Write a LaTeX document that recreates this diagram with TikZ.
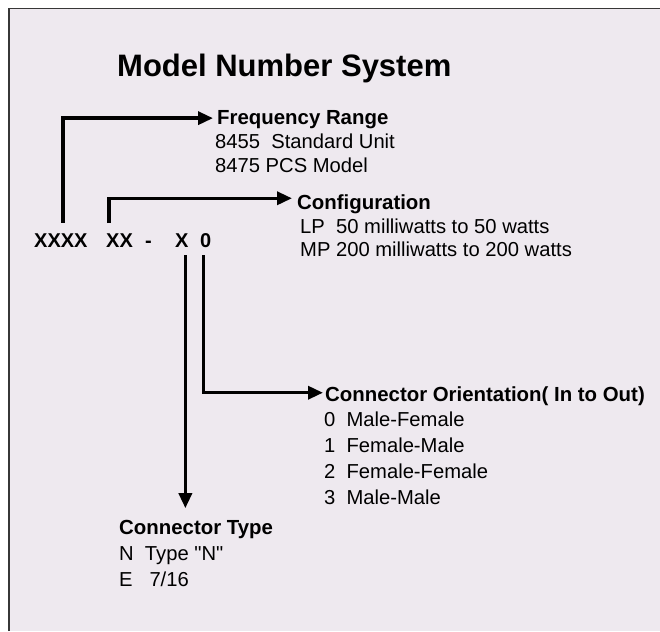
\documentclass[tikz,border=0pt]{standalone}
\usepackage{fontspec}
\setmainfont{Liberation Sans}[Ligatures=TeXOff]
\usetikzlibrary{arrows.meta}
\definecolor{bgcol}{RGB}{238,233,239}
\definecolor{framecol}{RGB}{55,55,55}
\begin{document}
\begin{tikzpicture}[x=1pt,y=-1pt,
  head/.style={anchor=base west,inner sep=0pt,font=\fontsize{20.4}{24}\selectfont\bfseries},
  body/.style={anchor=base west,inner sep=0pt,font=\fontsize{20.2}{24}\selectfont},
  code/.style={anchor=base west,inner sep=0pt,font=\fontsize{20}{24}\selectfont\bfseries},
  conn/.style={line width=3.4pt,-{Triangle[length=15pt,width=13pt]}}]
\useasboundingbox (0,0) rectangle (660,631);
\fill[bgcol] (9,8.5) rectangle (660,631);
\draw[framecol,line width=1.8pt] (9,631) -- (9,8.5) -- (660,8.5);
% title
\node[anchor=base west,inner sep=0pt,font=\fontsize{31}{36}\selectfont\bfseries] (title) at (117,77) {Model Number System};
% code
\node[code] (x4) at (34,247) {XXXX};
\node[code] (xx) at (106,247) {XX};
\node[code] (dash) at (145,247) {-};
\node[code] (x1) at (175,247) {X};
\node[code] (zero) at (200,247) {0};
% frequency range
\node[head] (freq) at (217,125) {Frequency Range};
\node[body] (f1) at (215,148.5) {8455~~Standard Unit};
\node[body] (f2) at (215,172.5) {8475 PCS Model};
% configuration
\node[head] (config) at (297,209.5) {Configuration};
\node[body] (c1) at (300,233.5) {LP~~50 milliwatts to 50 watts};
\node[body] (c2) at (300,256.5) {MP 200 milliwatts to 200 watts};
% orientation
\node[head] (orient) at (325,401) {Connector Orientation( In to Out)};
\node[body] (o1) at (324,426) {0~~Male-Female};
\node[body] (o2) at (324,452) {1~~Female-Male};
\node[body] (o3) at (324,478) {2~~Female-Female};
\node[body] (o4) at (324,504) {3~~Male-Male};
% connector type
\node[head] (ctype) at (119,534) {Connector Type};
\node[body] (t1) at (119,560) {N~~Type "N"};
\node[body] (t2) at (119,586) {E~~~7/16};
% connectors
\draw[conn] ([xshift=2pt,yshift=10.5pt]x4.north) |- ([xshift=-4pt,yshift=2pt]freq.west);
\draw[conn] ([xshift=3pt,yshift=10pt]xx.north west) |- ([xshift=-5pt,yshift=6pt]config.west);
\draw[conn] ([xshift=-2.5pt,yshift=-8pt]zero.south) |- ([xshift=-2pt,yshift=3pt]orient.west);
\draw[conn] ([xshift=3.5pt,yshift=-8pt]x1.south) -- ([xshift=3.5pt,yshift=-261pt]x1.south);
\end{tikzpicture}
\end{document}
